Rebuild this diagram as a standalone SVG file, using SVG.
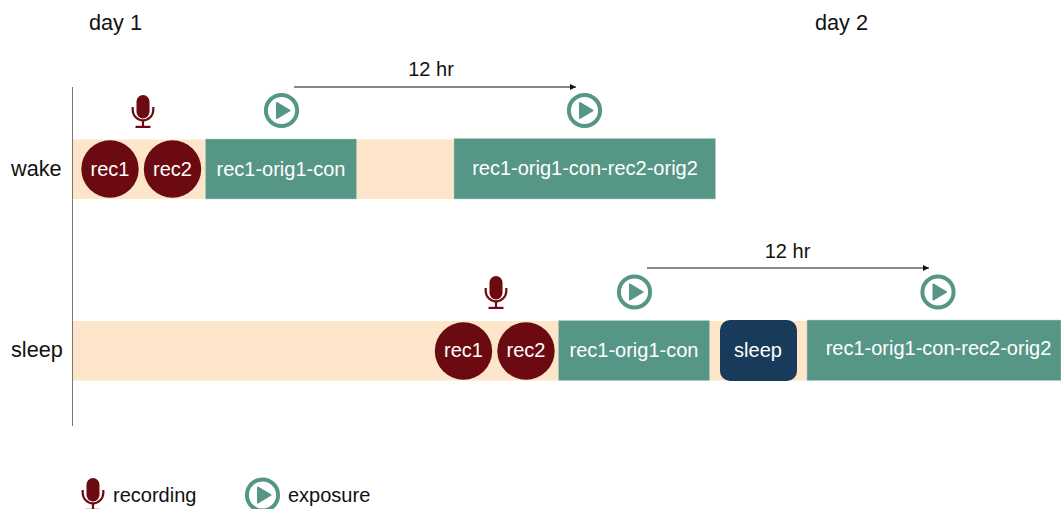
<svg xmlns="http://www.w3.org/2000/svg" width="1061" height="509" viewBox="0 0 1061 509">
<style>
text{font-family:"Liberation Sans",Arial,sans-serif;}
.lab{font-size:21.700px;fill:#111}
.sm{font-size:20px;fill:#111}
.w{font-size:20px;fill:#fff;text-anchor:middle}
.band{fill:#fce5c8}
.teal{fill:#569686;stroke:#b5d0c8;stroke-width:.5}
.rec{fill:#6b0a10}
.conn{stroke:#111;stroke-width:1;fill:none;marker-end:url(#ah)}
</style>
<defs>
<marker id="ah" markerUnits="userSpaceOnUse" markerWidth="7" markerHeight="7" refX="6" refY="3" orient="auto"><path d="M0 0L6 3L0 6Z" fill="#111"/></marker>
<g id="mic">
<rect x="-6.500" y="-16" width="13" height="23.500" rx="6.500" fill="#6b0a10"/>
<path d="M-10.300 -4V-1A10.300 10.300 0 0 0 10.300 -1V-4" fill="none" stroke="#6b0a10" stroke-width="2.200"/>
<path d="M0 9V15" stroke="#6b0a10" stroke-width="2.200"/>
<rect x="-7.500" y="14.800" width="15" height="2.200" fill="#6b0a10"/>
</g>
<g id="play">
<circle r="15.600" fill="#fff" stroke="#569686" stroke-width="4"/>
<path d="M-4.500 -7.500L8 0L-4.500 7.500Z" fill="#569686" stroke="#569686" stroke-width="2" stroke-linejoin="round"/>
</g>
</defs>
<g id="axis"><path d="M72.500 87V426" stroke="#777" stroke-width="1"/></g>
<g id="headings">
<text class="lab" x="89" y="30">day 1</text>
<text class="lab" x="815" y="30">day 2</text>
<text class="lab" x="11" y="176">wake</text>
<text class="lab" x="11" y="357">sleep</text>
</g>
<g id="connectors">
<path class="conn" d="M294 87H576"/>
<path class="conn" d="M647 268H929"/>
</g>
<g id="labels-12hr">
<text class="sm" x="431" y="76" text-anchor="middle">12 hr</text>
<text class="sm" x="787.500" y="258" text-anchor="middle">12 hr</text>
</g>
<g id="wake-band"><rect class="band" x="73" y="139.500" width="642" height="59.500"/></g>
<g id="sleep-band"><rect class="band" x="73" y="321" width="740" height="59.500"/></g>
<g id="wake-mic"><use href="#mic" x="143" y="111"/></g>
<g id="wake-play1"><use href="#play" x="281.500" y="110.500"/></g>
<g id="wake-play2"><use href="#play" x="584.500" y="110.500"/></g>
<g id="sleep-mic"><use href="#mic" x="496" y="292"/></g>
<g id="sleep-play1"><use href="#play" x="634.500" y="292"/></g>
<g id="sleep-play2"><use href="#play" x="938" y="292"/></g>
<g id="wake-rec1"><circle class="rec" cx="110" cy="169" r="28.700"/><text class="w" x="110" y="176">rec1</text></g>
<g id="wake-rec2"><circle class="rec" cx="172.500" cy="169" r="28.700"/><text class="w" x="172.500" y="176">rec2</text></g>
<g id="wake-con"><rect class="teal" x="205.500" y="139" width="151" height="60"/><text class="w" x="281" y="176">rec1-orig1-con</text></g>
<g id="wake-full"><rect class="teal" x="454" y="138.500" width="261.500" height="60.500"/><text class="w" x="585" y="175">rec1-orig1-con-rec2-orig2</text></g>
<g id="sleep-rec1"><circle class="rec" cx="463.500" cy="351" r="28.700"/><text class="w" x="463.500" y="357">rec1</text></g>
<g id="sleep-rec2"><circle class="rec" cx="526" cy="351" r="28.700"/><text class="w" x="526" y="357">rec2</text></g>
<g id="sleep-con"><rect class="teal" x="558.500" y="320.500" width="151" height="60"/><text class="w" x="634" y="357">rec1-orig1-con</text></g>
<g id="sleep-block"><rect x="720" y="320" width="77" height="61" rx="10" fill="#193b5b"/><text class="w" x="758" y="357">sleep</text></g>
<g id="sleep-full"><rect class="teal" x="807" y="320" width="254" height="60.500"/><text class="w" x="938.500" y="355">rec1-orig1-con-rec2-orig2</text></g>
<g id="legend-recording"><use href="#mic" x="93" y="494"/><text class="sm" x="113" y="502">recording</text></g>
<g id="legend-exposure"><use href="#play" x="262.500" y="495"/><text class="sm" x="288" y="502">exposure</text></g>
</svg>
